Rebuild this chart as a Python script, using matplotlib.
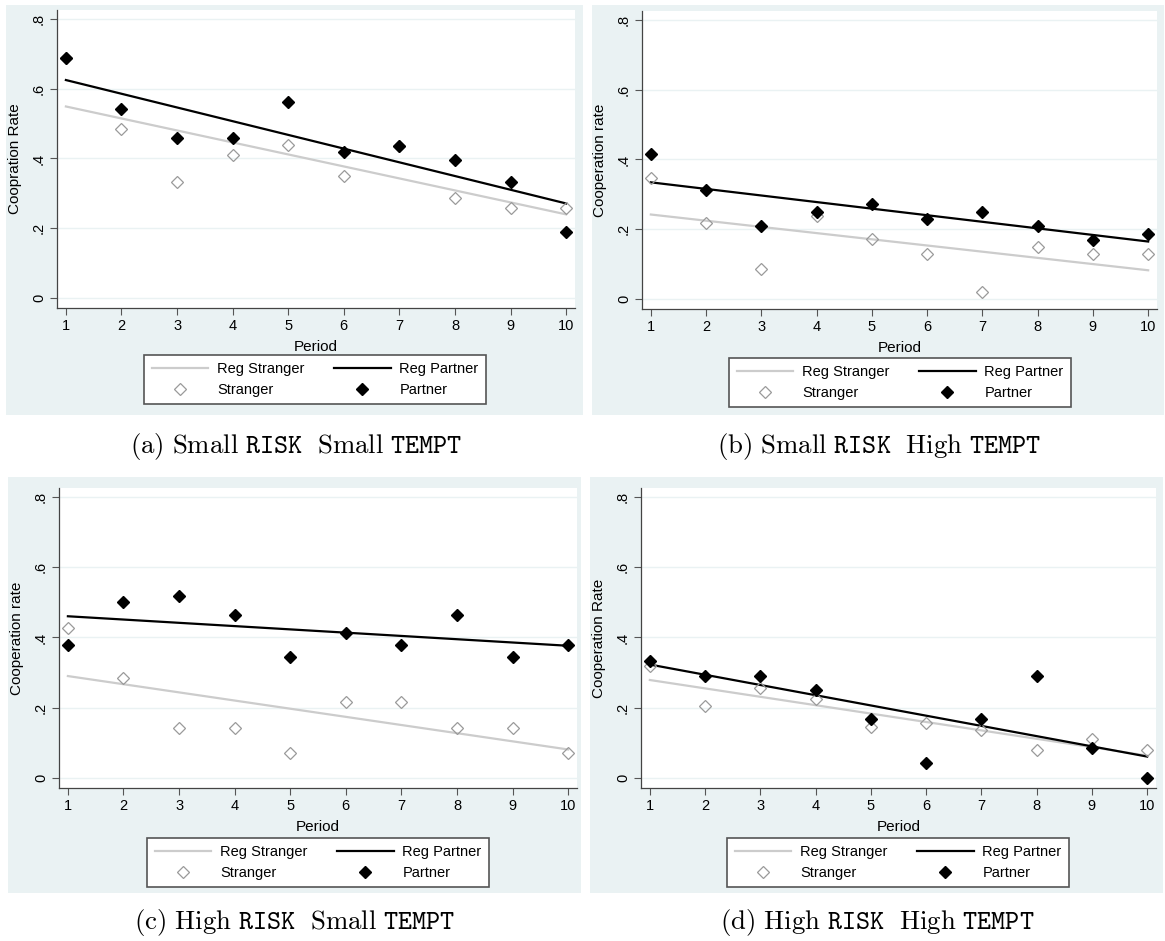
import numpy as np
import matplotlib
matplotlib.use('agg')
import matplotlib.pyplot as plt
from matplotlib.patches import Rectangle

plt.rcParams['font.family'] = ['Liberation Sans', 'DejaVu Sans']
plt.rcParams['mathtext.fontset'] = 'cm'

# data
periods = list(range(1, 11))

stranger_a = [0.687, 0.484, 0.333, 0.410, 0.439, 0.350, 0.437, 0.288, 0.258, 0.258]
partner_a = [0.687, 0.542, 0.459, 0.459, 0.563, 0.418, 0.437, 0.395, 0.332, 0.188]

stranger_b = [0.346, 0.218, 0.086, 0.238, 0.172, 0.130, 0.021, 0.150, 0.130, 0.130]
partner_b = [0.416, 0.312, 0.208, 0.248, 0.272, 0.228, 0.248, 0.208, 0.168, 0.187]

stranger_c = [0.428, 0.284, 0.142, 0.142, 0.072, 0.215, 0.215, 0.142, 0.142, 0.072]
partner_c = [0.379, 0.500, 0.517, 0.464, 0.344, 0.414, 0.379, 0.464, 0.344, 0.379]

stranger_d = [0.318, 0.206, 0.256, 0.224, 0.144, 0.157, 0.137, 0.079, 0.111, 0.079]
partner_d = [0.333, 0.291, 0.291, 0.249, 0.168, 0.041, 0.168, 0.291, 0.085, 0.000]

ylabels = ['Coopration Rate', 'Cooperation rate', 'Cooperation rate', 'Cooperation Rate']
captions = [r'$\mathrm{(a)\ Small\ }\mathtt{RISK}\ \ \mathrm{Small\ }\mathtt{TEMPT}$',
            r'$\mathrm{(b)\ Small\ }\mathtt{RISK}\ \ \mathrm{High\ }\mathtt{TEMPT}$',
            r'$\mathrm{(c)\ High\ }\mathtt{RISK}\ \ \mathrm{Small\ }\mathtt{TEMPT}$',
            r'$\mathrm{(d)\ High\ }\mathtt{RISK}\ \ \mathrm{High\ }\mathtt{TEMPT}$']
yticks = [0, 0.2, 0.4, 0.6, 0.8]
ytick_labels = ['0', '.2', '.4', '.6', '.8']

W, H = 1165, 941
BG = '#eaf2f3'

# layout in pixels: background box, plot region, legend (center x, top), caption (center x, y)
bg_boxes = [(6, 5, 583, 415), (592, 5, 1164, 415), (8, 477, 581, 893), (590, 477, 1163, 893)]
plot_boxes = [(57, 10, 575, 308), (642, 11, 1157, 309), (59, 488, 577, 788), (641, 488, 1156, 788)]
legend_pos = [(315, 355), (900, 358), (318, 838), (898, 838)]
caption_pos = [(296, 446), (879, 446), (295, 923), (877, 923)]


def frac(x0, y0, x1, y1):
    return [x0 / W, 1 - y1 / H, (x1 - x0) / W, (y1 - y0) / H]


fig = plt.figure(figsize=(W / 100, H / 100), dpi=100)

panels = [(stranger_a, partner_a), (stranger_b, partner_b),
          (stranger_c, partner_c), (stranger_d, partner_d)]

for i, (stranger, partner) in enumerate(panels):
    x0, y0, x1, y1 = bg_boxes[i]
    fig.add_artist(Rectangle((x0 / W, 1 - y1 / H), (x1 - x0) / W, (y1 - y0) / H,
                             transform=fig.transFigure, facecolor=BG, edgecolor='none', zorder=0))

    ax = fig.add_axes(frac(*plot_boxes[i]))
    ax.set_facecolor('white')
    ax.set_xlim(0.84, 10.16)
    ax.set_ylim(-0.029, 0.826)

    for yv in yticks:
        ax.axhline(yv, color=BG, lw=1.0, zorder=0)

    x = np.array(periods)
    fs = np.polyfit(x, stranger, 1)
    fp = np.polyfit(x, partner, 1)
    ax.plot(x, np.polyval(fs, x), color='#cccccc', lw=1.6, label='Reg Stranger', zorder=2)
    ax.plot(x, np.polyval(fp, x), color='black', lw=1.6, label='Reg Partner', zorder=2)
    ax.plot(x, stranger, 'D', ms=6, mfc='none', mec='#9a9a9a', mew=0.9,
            label='Stranger', zorder=3)
    ax.plot(x, partner, 'D', ms=6, color='black', label='Partner', zorder=4)

    ax.set_xticks(periods)
    ax.set_yticks(yticks)
    ax.set_yticklabels(ytick_labels, rotation=90, va='center')
    ax.tick_params(direction='out', length=5, width=0.8, color='#555555', labelsize=10.5, pad=3)
    for s in ['top', 'right']:
        ax.spines[s].set_visible(False)
    for s in ['left', 'bottom']:
        ax.spines[s].set_color('#444444')
        ax.spines[s].set_linewidth(0.9)

    px_w = plot_boxes[i][2] - plot_boxes[i][0]
    px_h = plot_boxes[i][3] - plot_boxes[i][1]
    ax.set_ylabel(ylabels[i], fontsize=11)
    ax.yaxis.set_label_coords(-35 / px_w, 0.5)
    ax.set_xlabel('Period', fontsize=11)
    ax.xaxis.set_label_coords(0.5, -32 / px_h)

    h, l = ax.get_legend_handles_labels()
    order = [0, 2, 1, 3]
    lx, ly = legend_pos[i]
    leg = ax.legend([h[k] for k in order], [l[k] for k in order], ncol=2,
                    loc='upper center', bbox_to_anchor=(lx / W, 1 - ly / H),
                    bbox_transform=fig.transFigure, borderaxespad=0,
                    fontsize=10.5, handlelength=3.9, handletextpad=0.6,
                    columnspacing=2.0, labelspacing=0.45, borderpad=0.5,
                    fancybox=False, framealpha=1, facecolor='white', edgecolor='#555555')
    leg.get_frame().set_linewidth(1.2)

    cx, cy = caption_pos[i]
    fig.text(cx / W, 1 - cy / H, captions[i], ha='center', va='center', fontsize=19.3)

fig.savefig('out.png', dpi=100)
